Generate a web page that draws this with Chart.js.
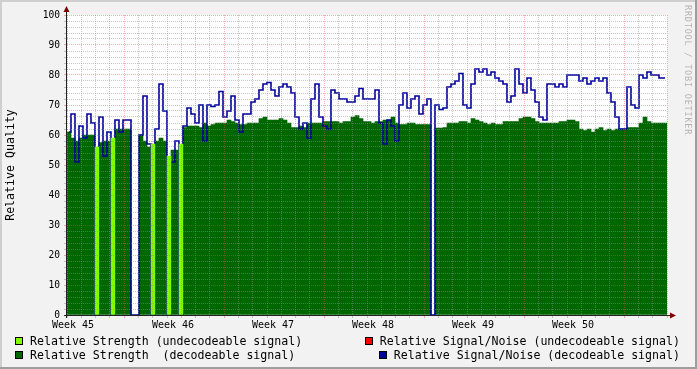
<!DOCTYPE html>
<html>
<head>
<meta charset="utf-8">
<script src="https://cdn.jsdelivr.net/npm/chart.js@4.4.0/dist/chart.umd.min.js"></script>
<style>
  html, body { margin: 0; padding: 0; background: #f2f2f2; }
  #wrap { position: relative; width: 697px; height: 369px; overflow: hidden; }
  #qualityChart { position: absolute; left: 0; top: 0; }
  .leg {
    position: absolute;
    display: flex;
    align-items: center;
    font-family: "DejaVu Sans Mono", monospace;
    font-size: 11.6px;
    line-height: 14px;
    white-space: pre;
    color: #000;
  }
  .sw { width: 6px; height: 6px; border: 1px solid #000; margin-right: 7px; }
  #mark {
    position: absolute;
    left: 682px;
    top: 5px;
    writing-mode: vertical-rl;
    font-family: "DejaVu Sans Mono", monospace;
    font-size: 8.5px;
    letter-spacing: 0.8px;
    line-height: 11px;
    color: #b4b4b4;
    white-space: pre;
  }
</style>
</head>
<body>
<div id="wrap">
  <canvas id="qualityChart" width="697" height="369"></canvas>
  <div class="leg" style="left:15px;top:334px"><span class="sw" style="background:#80ff00"></span>Relative Strength (undecodeable signal)</div>
  <div class="leg" style="left:15px;top:348px"><span class="sw" style="background:#006600"></span>Relative Strength  (decodeable signal)</div>
  <div class="leg" style="right:17px;top:334px"><span class="sw" style="background:#ff0000"></span>Relative Signal/Noise (undecodeable signal)</div>
  <div class="leg" style="right:17px;top:348px"><span class="sw" style="background:#000099"></span>Relative Signal/Noise (decodeable signal)</div>
  <div id="mark">RRDTOOL / TOBI OETIKER</div>
</div>
<script>
const _ = null;

// 6 weeks = 1008 hours, 150 samples
const totalHours = 1008;
const weekLabels = ["Week 45", "Week 46", "Week 47", "Week 48", "Week 49", "Week 50"];

// Relative Strength (decodeable signal)
const strengthDecodeable = [
  61, 59, 58, 59, 60, 60, 60, _, 57.5, 58,
  58, _, 62, 62, 62, 62, _, _, 60, 58,
  56, _, 58, 59, 58, _, 55, 55, _, 62.5,
  63, 63, 63, 62.5, 64, 63, 63.5, 64, 64, 64,
  65, 64.5, 64, 63.5, 63.5, 64, 64, 64, 65.5, 66,
  65, 65, 65, 65.5, 65, 64, 62.5, 62.5, 63, 62.5,
  64, 64, 64, 64, 64.5, 64.5, 64.5, 64.5, 64, 64.5,
  64.5, 66, 66.5, 65.5, 64.5, 64.5, 64, 64.5, 64.5, 65,
  65, 66, 64, 63.5, 63.5, 64, 64, 63.5, 63.5, 63.5,
  63.5, _, 62.3, 62.3, 62.5, 64, 64, 64, 64.5, 64.5,
  64, 65.5, 65, 64.5, 64, 63.5, 64, 63.5, 63.5, 64.5,
  64.5, 64.5, 64.5, 65.5, 66, 66, 65.5, 64.5, 64, 64,
  64, 64, 64, 64.5, 64.5, 65, 65, 64.5, 62, 61.5,
  62, 61, 62, 62.5, 61.5, 62, 61.5, 62, 62, 62,
  62.5, 62.5, 62.5, 64, 66, 64.5, 64, 64, 64, 64
];

// Relative Strength (undecodeable signal)
const strengthUndecodeable = [
  _, _, _, _, _, _, _, 56, _, _,
  _, 59, _, _, _, _, _, _, _, _,
  _, 57, _, _, _, 53, _, _, 57, _,
  _, _, _, _, _, _, _, _, _, _,
  _, _, _, _, _, _, _, _, _, _,
  _, _, _, _, _, _, _, _, _, _,
  _, _, _, _, _, _, _, _, _, _,
  _, _, _, _, _, _, _, _, _, _,
  _, _, _, _, _, _, _, _, _, _,
  _, _, _, _, _, _, _, _, _, _,
  _, _, _, _, _, _, _, _, _, _,
  _, _, _, _, _, _, _, _, _, _,
  _, _, _, _, _, _, _, _, _, _,
  _, _, _, _, _, _, _, _, _, _,
  _, _, _, _, _, _, _, _, _, _
];

// Relative Signal/Noise (decodeable signal)
const snrDecodeable = [
  61, 67, 51, 63, 59, 67, 64, 0, 66, 53,
  61, 0, 65, 61, 65, 65, 0, 0, 60, 73,
  57, 0, 62, 77, 68, 0, 51, 58, 0, 63,
  69, 67, 64, 70, 58, 70, 69.5, 70, 74.5, 66,
  68, 73, 65, 61, 67, 67, 71, 72, 75, 77,
  77.5, 75, 73, 76, 77, 76, 74, 66, 62, 64,
  59, 72, 77, 66, 63, 62, 75, 74, 72, 72,
  71, 71, 73, 75.5, 72, 72, 72, 75, 64, 57,
  65, 63, 58, 70, 74, 69, 72, 73, 67, 70,
  72, 0, 70, 68.5, 69, 76, 77, 78, 80.5, 70,
  69, 77, 82, 81, 82, 80, 81, 79, 78, 77,
  71, 73, 82, 77, 74, 79, 75, 71, 66, 65,
  77, 77, 76, 77, 76, 80, 80, 80, 78, 79,
  77, 78, 79, 78, 79, 74, 71, 66, 62, 62,
  76, 70, 69, 80, 79, 81, 80, 80, 79, 79
];

const slot = totalHours / strengthDecodeable.length;
const toPoints = (arr) => arr.map((v, i) => ({ x: (i + 0.5) * slot, y: v }));

// x ticks: one per day for the grid, plus one per week for the labels
const dayTicks = [];
for (let h = 0; h <= totalHours; h += 24) dayTicks.push(h);
const labelTicks = weekLabels.map((_l, w) => 10 + w * 168);
const allTicks = dayTicks.concat(labelTicks).sort((a, b) => a - b);

const GRID = "rgba(143,143,143,0.5)";
const MGRID = "rgba(222,79,79,0.45)";

const xGridColor = (c) => {
  const v = c.tick ? c.tick.value : 0;
  if (v % 24 !== 0) return "rgba(0,0,0,0)";
  return (v - 96) % 168 === 0 ? MGRID : GRID;
};
const yGridColor = (c) => {
  const v = c.tick ? c.tick.value : 0;
  return v % 10 === 0 ? MGRID : GRID;
};

const rrdFrame = {
  id: "rrdFrame",
  beforeDraw(chart) {
    const ctx = chart.ctx;
    const a = chart.chartArea;
    ctx.save();
    ctx.fillStyle = "#f2f2f2";
    ctx.fillRect(0, 0, chart.width, chart.height);
    ctx.fillStyle = "#ffffff";
    ctx.fillRect(a.left, a.top, a.right - a.left, a.bottom - a.top);
    // shaded border
    ctx.fillStyle = "#cfcfcf";
    ctx.fillRect(0, 0, chart.width, 2);
    ctx.fillRect(0, 0, 2, chart.height);
    ctx.fillStyle = "#9e9e9e";
    ctx.fillRect(0, chart.height - 2, chart.width, 2);
    ctx.fillRect(chart.width - 2, 0, 2, chart.height);
    ctx.restore();
  },
  afterDraw(chart) {
    const ctx = chart.ctx;
    const a = chart.chartArea;
    ctx.save();
    ctx.strokeStyle = "#212121";
    ctx.lineWidth = 1;
    ctx.beginPath();
    ctx.moveTo(a.left - 0.5, a.bottom + 3);
    ctx.lineTo(a.left - 0.5, a.top - 5);
    ctx.moveTo(a.left - 3, a.bottom + 0.5);
    ctx.lineTo(a.right + 5, a.bottom + 0.5);
    ctx.stroke();
    ctx.fillStyle = "#800000";
    ctx.beginPath();
    ctx.moveTo(a.left - 3.5, a.top - 3);
    ctx.lineTo(a.left + 2.5, a.top - 3);
    ctx.lineTo(a.left - 0.5, a.top - 9);
    ctx.closePath();
    ctx.fill();
    ctx.beginPath();
    ctx.moveTo(a.right + 3, a.bottom - 2.5);
    ctx.lineTo(a.right + 3, a.bottom + 3.5);
    ctx.lineTo(a.right + 9, a.bottom + 0.5);
    ctx.closePath();
    ctx.fill();
    ctx.restore();
  }
};

const monoFont = "'DejaVu Sans Mono', monospace";

let qualityChart = new Chart(document.getElementById("qualityChart"), {
  type: "bar",
  data: {
    datasets: [
      {
        type: "line",
        label: "Relative Signal/Noise (decodeable signal)",
        data: toPoints(snrDecodeable),
        borderColor: "#000099",
        borderWidth: 1.6,
        stepped: "middle",
        pointRadius: 0,
        fill: false,
        order: 0,
      },
      {
        label: "Relative Strength (decodeable signal)",
        data: toPoints(strengthDecodeable),
        backgroundColor: "#006600",
        borderWidth: 0,
        grouped: false,
        categoryPercentage: 1,
        barPercentage: 1,
        order: 1,
      },
      {
        // drawn last so the short undecodeable stretches stay visible
        label: "Relative Strength (undecodeable signal)",
        data: toPoints(strengthUndecodeable),
        backgroundColor: "#80ff00",
        borderWidth: 0,
        grouped: false,
        categoryPercentage: 1,
        barPercentage: 1,
        order: -1,
      },
    ],
  },
  options: {
    responsive: false,
    animation: false,
    devicePixelRatio: 1,
    layout: {
      padding: { left: 0, right: 30, top: 15, bottom: 34 },
    },
    scales: {
      x: {
        type: "linear",
        min: 0,
        max: totalHours,
        offset: false,
        afterBuildTicks: (s) => {
          s.ticks = allTicks.map((v) => ({ value: v }));
        },
        afterFit: (s) => {
          s.height = 20;
        },
        grid: {
          offset: false,
          color: xGridColor,
          tickColor: xGridColor,
          tickLength: 3,
          z: 1,
        },
        border: { display: false, dash: [1, 1] },
        ticks: {
          autoSkip: false,
          maxRotation: 0,
          padding: 1,
          color: "#000",
          font: { family: monoFont, size: 10 },
          callback: (v) => {
            const w = labelTicks.indexOf(v);
            return w >= 0 ? weekLabels[w] : "";
          },
        },
      },
      y: {
        min: 0,
        max: 100,
        afterFit: (s) => {
          s.width = 67;
        },
        grid: {
          color: yGridColor,
          tickColor: yGridColor,
          tickLength: 3,
          z: 1,
        },
        border: { display: false, dash: [1, 1] },
        ticks: {
          stepSize: 2,
          maxTicksLimit: 100,
          autoSkip: false,
          padding: 4,
          color: "#000",
          font: { family: monoFont, size: 9.6 },
          callback: (v) => (v % 10 === 0 ? String(v) : ""),
        },
        title: {
          display: true,
          text: "Relative Quality",
          color: "#000",
          font: { family: monoFont, size: 11.6, lineHeight: 1.2 },
          padding: { top: 4, bottom: 0 },
        },
      },
    },
    plugins: {
      legend: { display: false },
      tooltip: { enabled: false },
    },
  },
  plugins: [rrdFrame],
});
</script>
</body>
</html>
